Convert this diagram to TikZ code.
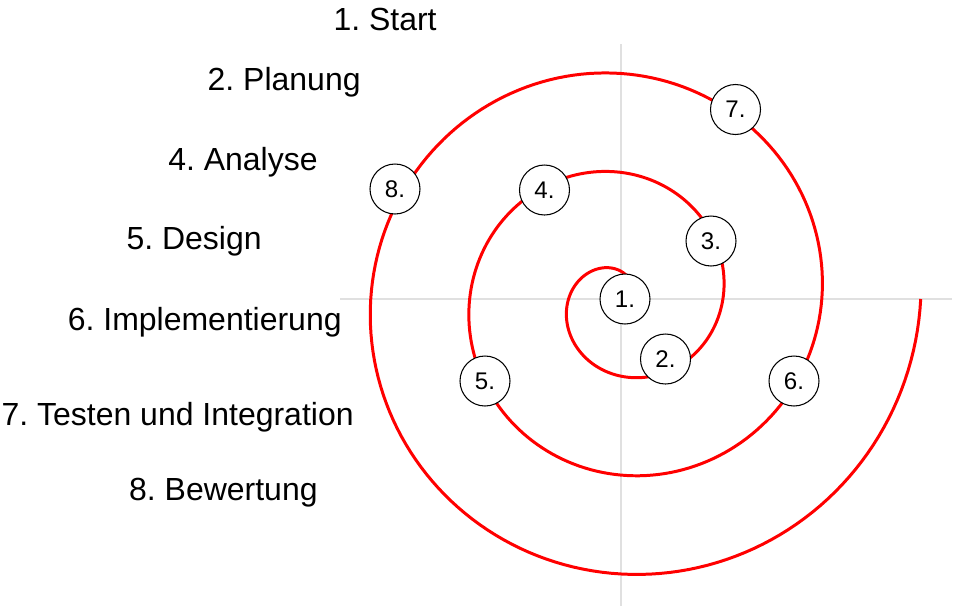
\documentclass[tikz,border=0pt]{standalone}
\usepackage{fontspec}
\setmainfont{Liberation Sans}
\usepackage{xcolor}
\usepackage{tikz}
\usetikzlibrary{positioning}

\definecolor{axisgray}{HTML}{E0E0E0}
\frenchspacing

\begin{document}
\begin{tikzpicture}[
          phase/.style={circle, draw, fill=white, line width=0.6pt, minimum size=1cm, inner sep=0pt, font=\fontsize{13.7}{16}\selectfont},
          phasetext/.style={anchor=base east, inner sep=0pt, font=\fontsize{18.2}{22}\selectfont},
          axisline/.style={axisgray, line width=1.1pt}]
          \useasboundingbox (-12.42,-6.22) rectangle (6.7,5.98);

          % axes
          \draw[axisline] (0,5.1) -- (0,-6.14);
          \draw[axisline] (-5.62,0) -- (6.62,0);

          % spiral
          \draw[red, line width=1.7pt, domain=0:1080, samples=541, variable=\t]
            plot ({(0.06+\t/182)*cos(\t)}, {(0.06+\t/182)*sin(\t)});

          \node[phase] (S1) at (0.08,0) {1.};
          \node[phase] (S2) at (0.89,-1.2) {2.};
          \node[phase] (S3) at (1.8,1.16) {3.};
          \node[phase] (S4) at (-1.53,2.18) {4.};
          \node[phase] (S5) at (-2.72,-1.64) {5.};
          \node[phase] (S6) at (3.46,-1.64) {6.};
          \node[phase] (S7) at (2.29,3.79) {7.};
          \node[phase] (S8) at (-4.52,2.2) {8.};

          \node[phasetext] (T1) at (-3.68,5.38) {1. Start};
          \node[phasetext] (T2) at (-5.2,4.17) {2. Planung};
          \node[phasetext] (T4) at (-6.06,2.58) {4. Analyse};
          \node[phasetext] (T5) at (-7.18,1.0) {5. Design};
          \node[phasetext] (T6) at (-5.58,-0.62) {6. Implementierung};
          \node[phasetext] (T7) at (-5.34,-2.52) {7. Testen und Integration};
          \node[phasetext] (T8) at (-6.06,-4.02) {8. Bewertung};
        \end{tikzpicture}
\end{document}
